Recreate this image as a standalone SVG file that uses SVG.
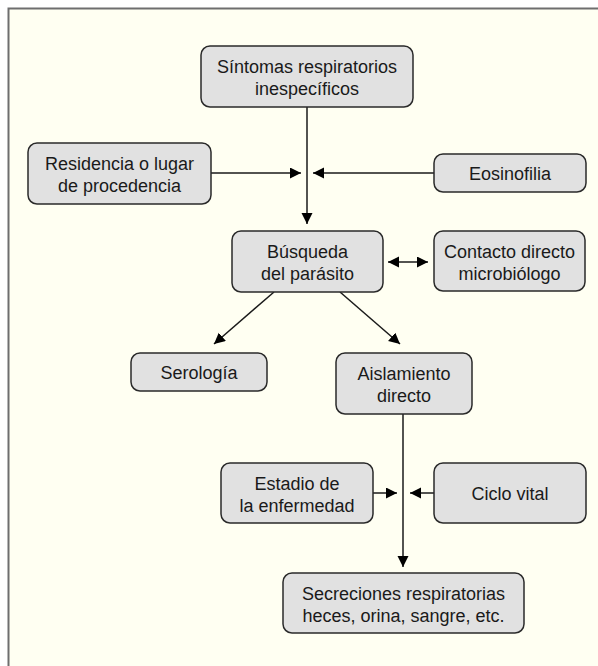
<svg xmlns="http://www.w3.org/2000/svg" width="598" height="666" viewBox="0 0 598 666">
<defs>
<style>
.box{fill:#e1e1e1;stroke:#2a2a2a;stroke-width:1.5}
.t{font-family:"Liberation Sans",Arial,Helvetica,sans-serif;font-size:18px;fill:#1a1a1a;text-anchor:middle}
.c{stroke:#1a1a1a;stroke-width:1.5;fill:none}
</style>
<marker id="ah" markerUnits="userSpaceOnUse" markerWidth="12" markerHeight="12" refX="11" refY="5.5" orient="auto-start-reverse">
<path d="M0,0 L11,5.5 L0,11 z" fill="#000"/>
</marker>
</defs>
<rect x="0" y="0" width="598" height="666" fill="#ffffff"/>
<rect x="8" y="8" width="590" height="658" fill="#fffff2"/>
<path d="M8.5,666 V8.5 H598" fill="none" stroke="#6e6e6e" stroke-width="2"/>

<g id="connectors">
<line class="c" x1="307" y1="107" x2="307" y2="224" marker-end="url(#ah)"/>
<line class="c" x1="211" y1="173" x2="301" y2="173" marker-end="url(#ah)"/>
<line class="c" x1="434" y1="173" x2="313" y2="173" marker-end="url(#ah)"/>
<line class="c" x1="388" y1="262" x2="428" y2="262" marker-start="url(#ah)" marker-end="url(#ah)"/>
<line class="c" x1="274" y1="292" x2="214" y2="344" marker-end="url(#ah)"/>
<line class="c" x1="340" y1="292" x2="400" y2="344" marker-end="url(#ah)"/>
<line class="c" x1="403" y1="414" x2="403" y2="567" marker-end="url(#ah)"/>
<line class="c" x1="373" y1="493" x2="397" y2="493" marker-end="url(#ah)"/>
<line class="c" x1="434" y1="493" x2="410" y2="493" marker-end="url(#ah)"/>
</g>

<g id="sintomas">
<rect class="box" x="201" y="46" width="212" height="61" rx="9"/>
<text class="t" x="307" y="73">Síntomas respiratorios</text>
<text class="t" x="307" y="95">inespecíficos</text>
</g>
<g id="residencia">
<rect class="box" x="28" y="143" width="183" height="61" rx="9"/>
<text class="t" x="119.5" y="170">Residencia o lugar</text>
<text class="t" x="119.5" y="192">de procedencia</text>
</g>
<g id="eosinofilia">
<rect class="box" x="434" y="154" width="152" height="38" rx="9"/>
<text class="t" x="510" y="179.5">Eosinofilia</text>
</g>
<g id="busqueda">
<rect class="box" x="232" y="231" width="151" height="61" rx="9"/>
<text class="t" x="307.5" y="258">Búsqueda</text>
<text class="t" x="307.5" y="280">del parásito</text>
</g>
<g id="contacto">
<rect class="box" x="434" y="231" width="151" height="60" rx="9"/>
<text class="t" x="509.5" y="258">Contacto directo</text>
<text class="t" x="509.5" y="280">microbiólogo</text>
</g>
<g id="serologia">
<rect class="box" x="131" y="353" width="136" height="38" rx="9"/>
<text class="t" x="199" y="378.5">Serología</text>
</g>
<g id="aislamiento">
<rect class="box" x="336" y="353" width="136" height="61" rx="9"/>
<text class="t" x="404" y="380">Aislamiento</text>
<text class="t" x="404" y="402">directo</text>
</g>
<g id="estadio">
<rect class="box" x="221" y="463" width="152" height="60" rx="9"/>
<text class="t" x="297" y="490">Estadio de</text>
<text class="t" x="297" y="512">la enfermedad</text>
</g>
<g id="ciclo">
<rect class="box" x="434" y="463" width="152" height="60" rx="9"/>
<text class="t" x="510" y="499.5">Ciclo vital</text>
</g>
<g id="secreciones">
<rect class="box" x="283" y="573" width="241" height="60" rx="9"/>
<text class="t" x="403.5" y="600">Secreciones respiratorias</text>
<text class="t" x="403.5" y="622">heces, orina, sangre, etc.</text>
</g>
</svg>
